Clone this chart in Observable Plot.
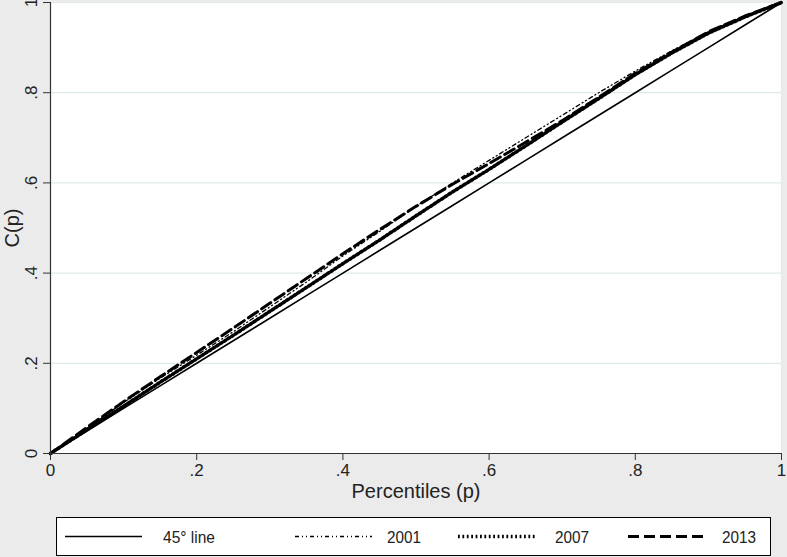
<!DOCTYPE html>
<html>
<head>
<meta charset="utf-8">
<script src="https://cdn.jsdelivr.net/npm/d3@7"></script>
<script src="https://cdn.jsdelivr.net/npm/@observablehq/plot@0.6"></script>
<style>
  html, body { margin: 0; padding: 0; background: #ebebeb; }
  #chart { width: 787px; height: 557px; position: relative; overflow: hidden; }
  #legend { display: block; }
</style>
</head>
<body>
<div id="chart"></div>
<script>
// Percentiles p
const percentiles = [0, 0.05, 0.1, 0.15, 0.2, 0.25, 0.3, 0.35, 0.4, 0.45, 0.5, 0.55, 0.6, 0.65, 0.7, 0.75, 0.8, 0.85, 0.9, 0.95, 1];
// Concentration curve values C(p)
const line45 = [0, 0.05, 0.1, 0.15, 0.2, 0.25, 0.3, 0.35, 0.4, 0.45, 0.5, 0.55, 0.6, 0.65, 0.7, 0.75, 0.8, 0.85, 0.9, 0.95, 1];
const c2001 = [0, 0.056, 0.113, 0.167, 0.218, 0.270, 0.325, 0.380, 0.438, 0.492, 0.548, 0.600, 0.650, 0.700, 0.750, 0.800, 0.848, 0.893, 0.935, 0.970, 1];
const c2007 = [0, 0.053, 0.105, 0.158, 0.210, 0.262, 0.315, 0.368, 0.421, 0.473, 0.527, 0.580, 0.630, 0.682, 0.735, 0.787, 0.840, 0.888, 0.932, 0.968, 1];
const c2013 = [0, 0.058, 0.115, 0.170, 0.224, 0.278, 0.333, 0.388, 0.443, 0.496, 0.548, 0.597, 0.643, 0.690, 0.738, 0.790, 0.843, 0.890, 0.935, 0.970, 1];
// Series names
const seriesNames = ["45° line", "2001", "2007", "2013"];
const seriesValues = [line45, c2001, c2007, c2013];
// Tick labels
const tickValues = [0, 0.2, 0.4, 0.6, 0.8, 1];
const tickLabels = ["0", ".2", ".4", ".6", ".8", "1"];

const styles = [
  {stroke: "#000", strokeWidth: 1.6, strokeDasharray: null},
  {stroke: "#000", strokeWidth: 1.3, strokeDasharray: "4,3,1,3,1,3"},
  {stroke: "#000", strokeWidth: 3.6, strokeDasharray: "1.8,2.6"},
  {stroke: "#000", strokeWidth: 3, strokeDasharray: "11,5"}
];

const fmt = d => tickLabels[tickValues.findIndex(t => Math.abs(t - d) < 1e-9)];
const font = "'Liberation Sans', Arial, sans-serif";

const rows = seriesNames.map((name, i) => percentiles.map((p, j) => ({p, c: seriesValues[i][j], name})));

const marks = [
  Plot.frame({fill: "white", stroke: "none"}),
  Plot.gridY(tickValues, {stroke: "#dfe9ec", strokeOpacity: 1, strokeWidth: 1.2}),
  Plot.ruleX([1], {stroke: "#e3e8ea", strokeWidth: 1})
];
rows.forEach((data, i) => {
  marks.push(Plot.line(data, {x: "p", y: "c", ...styles[i], strokeLinejoin: "round"}));
});
marks.push(
  Plot.axisX({ticks: tickValues, tickFormat: fmt, tickSize: 7, tickPadding: 3, fontSize: 17, stroke: "#333",
    label: "Percentiles (p)", labelAnchor: "center", labelOffset: 44, labelArrow: "none"}),
  Plot.axisY({ticks: tickValues, tickFormat: fmt, tickSize: 7, tickPadding: 7, tickRotate: -90, fontSize: 17, stroke: "#333",
    label: "C(p)", labelAnchor: "center", labelOffset: 46, labelArrow: "none"}),
  Plot.ruleX([0], {stroke: "#333", strokeWidth: 1.2}),
  Plot.ruleY([0], {stroke: "#333", strokeWidth: 1.2})
);

const chart = Plot.plot({
  width: 787,
  height: 512,
  marginLeft: 50,
  marginRight: 6,
  marginTop: 2,
  marginBottom: 59,
  x: {domain: [0, 1]},
  y: {domain: [0, 1]},
  style: {background: "transparent", fontFamily: font, fontSize: "17px", color: "#222"},
  marks
});
chart.querySelectorAll("g[aria-label='x-axis label'] text, g[aria-label='y-axis label'] text").forEach(t => t.style.fontSize = "20px");
document.getElementById("chart").appendChild(chart);

// Legend built from the series names and styles
const lg = d3.create("svg").attr("id", "legend").attr("width", 787).attr("height", 45)
  .style("font-family", font).style("font-size", "16px");
lg.append("rect").attr("x", 56.5).attr("y", 5.5).attr("width", 714).attr("height", 38)
  .attr("fill", "white").attr("stroke", "#000").attr("stroke-width", 1);
const sampleX = [65, 295, 458, 628];
const textX = [163, 387, 555, 722];
seriesNames.forEach((name, i) => {
  lg.append("line").attr("x1", sampleX[i]).attr("x2", sampleX[i] + 77).attr("y1", 24.5).attr("y2", 24.5)
    .attr("stroke", styles[i].stroke).attr("stroke-width", styles[i].strokeWidth)
    .attr("stroke-dasharray", styles[i].strokeDasharray);
  lg.append("text").attr("x", textX[i]).attr("y", 30.5).attr("fill", "#222")
    .attr("textLength", i === 0 ? 52 : 34).attr("lengthAdjust", "spacingAndGlyphs").style("font-size", "17px").text(name);
});
document.getElementById("chart").appendChild(lg.node());
</script>
</body>
</html>
